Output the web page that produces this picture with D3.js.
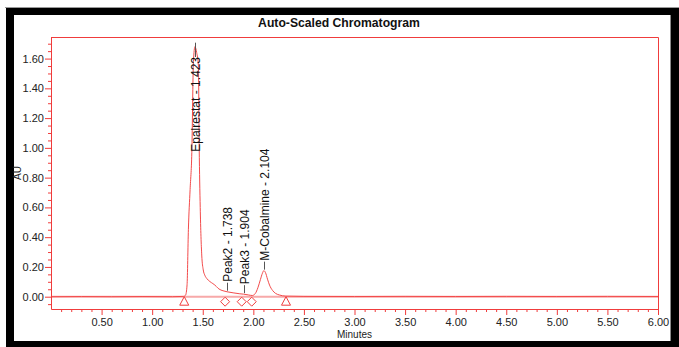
<!DOCTYPE html>
<html>
<head>
<meta charset="utf-8">
<script src="https://cdn.jsdelivr.net/npm/d3@7/dist/d3.min.js"></script>
<style>
  html, body { margin: 0; padding: 0; background: #fff; }
  svg { display: block; font-family: "Liberation Sans", Arial, sans-serif; }
</style>
</head>
<body>
<svg id="chart" width="679" height="347"></svg>
<script>
// Detector trace: retention time (minutes) and absorbance (AU)
const times = [0.00, 0.30, 0.60, 0.90, 1.20, 1.31, 1.33, 1.345, 1.358, 1.375, 1.392, 1.408, 1.423, 1.44, 1.457, 1.465, 1.475, 1.49, 1.505, 1.52, 1.54, 1.57, 1.60, 1.62, 1.635, 1.66, 1.70, 1.74, 1.80, 1.86, 1.904, 1.95, 1.99, 2.02, 2.045, 2.07, 2.09, 2.104, 2.12, 2.14, 2.16, 2.19, 2.22, 2.26, 2.32, 2.50, 3.00, 3.50, 4.00, 4.50, 5.00, 5.50, 6.00];
const absorbance = [0.000, 0.001, 0.000, 0.001, 0.000, 0.002, 0.010, 0.08, 0.45, 0.72, 0.97, 1.58, 1.68, 1.64, 1.55, 1.00, 0.60, 0.28, 0.18, 0.145, 0.122, 0.102, 0.088, 0.078, 0.068, 0.052, 0.040, 0.033, 0.026, 0.020, 0.017, 0.012, 0.008, 0.022, 0.060, 0.115, 0.158, 0.175, 0.162, 0.118, 0.078, 0.042, 0.022, 0.011, 0.004, 0.002, 0.001, 0.002, 0.001, 0.002, 0.001, 0.002, 0.001];

// Integrated peaks
const peakNames = ["Epalrestat", "Peak2", "Peak3", "M-Cobalmine"];
const peakTimes = [1.423, 1.738, 1.904, 2.104];

// Integration event marks
const baselineMarks = [1.317, 2.323];   // triangles: baseline start / end
const dropMarks = [1.721, 1.885, 1.984]; // diamonds: peak drop lines

// Axis ticks
const xTickLabels = [0.5, 1.0, 1.5, 2.0, 2.5, 3.0, 3.5, 4.0, 4.5, 5.0, 5.5, 6.0];
const yTickLabels = [0.0, 0.2, 0.4, 0.6, 0.8, 1.0, 1.2, 1.4, 1.6];

const title = "Auto-Scaled Chromatogram";
const xTitle = "Minutes";
const yTitle = "AU";

const red = "#f03c3c";
const traceRed = "#f34b4b";

const svg = d3.select("#chart");

// window frame
svg.append("rect").attr("x", 0).attr("y", 0).attr("width", 679).attr("height", 347).attr("fill", "#fff");
svg.append("rect").attr("x", 5).attr("y", 7).attr("width", 674).attr("height", 1).attr("fill", "#9a9a9a");
svg.append("rect").attr("x", 6).attr("y", 8).attr("width", 673).attr("height", 339).attr("fill", "#000");
svg.append("rect").attr("x", 14).attr("y", 15).attr("width", 657).attr("height", 326).attr("fill", "#fff");
svg.append("rect").attr("x", 670).attr("y", 15).attr("width", 1).attr("height", 326).attr("fill", "#8a8a8a");

const plot = { left: 51, right: 658, top: 37, bottom: 309 };

const x = d3.scaleLinear().domain([0, 6]).range([plot.left, plot.right]);
const y = d3.scaleLinear().domain([-0.0827, 1.745]).range([plot.bottom, plot.top]);

// title
svg.append("text")
  .attr("x", 339).attr("y", 27)
  .attr("text-anchor", "middle")
  .attr("font-size", "12.2px").attr("font-weight", "bold").attr("fill", "#111")
  .text(title);

// zero baseline band
svg.append("line")
  .attr("x1", x(0)).attr("x2", x(6))
  .attr("y1", y(0)).attr("y2", y(0))
  .attr("stroke", "#f7a9a9").attr("stroke-width", 2);

// trace
const line = d3.line()
  .x((d, i) => x(times[i]))
  .y((d, i) => y(absorbance[i]))
  .curve(d3.curveMonotoneX);

svg.append("path")
  .datum(absorbance)
  .attr("d", line)
  .attr("fill", "none")
  .attr("stroke", traceRed)
  .attr("stroke-width", 1);

// frame: top and right edges
svg.append("path")
  .attr("d", `M${plot.left},${plot.top + 0.5}H${plot.right + 0.5}V${plot.bottom}`)
  .attr("fill", "none").attr("stroke", red).attr("stroke-width", 1);

// x axis
const xMinor = d3.range(1, 61).map(i => i / 10).filter(v => Math.abs(v * 2 - Math.round(v * 2)) > 1e-6);
const xAxisG = svg.append("g").attr("transform", `translate(0,${plot.bottom})`);
xAxisG.append("g").call(d3.axisBottom(x).tickValues(xMinor).tickSize(3).tickFormat(""))
  .call(g => g.select(".domain").remove());
xAxisG.append("g").call(d3.axisBottom(x).tickValues(xTickLabels).tickSize(6).tickSizeOuter(0).tickPadding(3).tickFormat(d3.format(".2f")));
xAxisG.selectAll("line, path").attr("stroke", red);
xAxisG.selectAll("text").attr("font-size", "11px").attr("fill", "#222").attr("font-family", "Liberation Sans, Arial, sans-serif");

// y axis
const yMinor = d3.range(-1, 35).map(i => i * 0.05).filter(v => Math.abs(v * 5 - Math.round(v * 5)) > 1e-6 || v > 1.61);
const yAxisG = svg.append("g").attr("transform", `translate(${plot.left},0)`);
yAxisG.append("g").call(d3.axisLeft(y).tickValues(yMinor).tickSize(3).tickFormat(""))
  .call(g => g.select(".domain").remove());
yAxisG.append("g").call(d3.axisLeft(y).tickValues(yTickLabels).tickSize(6).tickSizeOuter(0).tickPadding(1).tickFormat(d3.format(".2f")));
yAxisG.selectAll("line, path").attr("stroke", red);
yAxisG.selectAll("text").attr("font-size", "11px").attr("fill", "#222").attr("font-family", "Liberation Sans, Arial, sans-serif");

// axis titles
svg.append("text")
  .attr("x", (plot.left + plot.right) / 2).attr("y", 337.5)
  .attr("text-anchor", "middle").attr("font-size", "10px").attr("fill", "#222")
  .text(xTitle);
svg.append("text")
  .attr("transform", `translate(17,${(plot.top + plot.bottom) / 2}) rotate(-90)`)
  .attr("text-anchor", "middle").attr("dy", "0.35em").attr("font-size", "10px").attr("fill", "#222")
  .text(yTitle);

// integration marks
const markY = y(0) + 5;
svg.selectAll("path.tri")
  .data(baselineMarks).join("path").attr("class", "tri")
  .attr("d", d => `M${x(d)},${y(0)}L${x(d) + 4.5},${y(0) + 8.5}L${x(d) - 4.5},${y(0) + 8.5}Z`)
  .attr("fill", "#fff").attr("stroke", red).attr("stroke-width", 1);
svg.selectAll("path.dia")
  .data(dropMarks).join("path").attr("class", "dia")
  .attr("d", d => `M${x(d)},${markY - 4.5}L${x(d) + 4.5},${markY}L${x(d)},${markY + 4.5}L${x(d) - 4.5},${markY}Z`)
  .attr("fill", "#fff").attr("stroke", red).attr("stroke-width", 1);

// peak labels
const traceAt = t => {
  const i = d3.bisectLeft(times, t);
  if (i <= 0) return absorbance[0];
  const t0 = times[i - 1], t1 = times[i];
  return absorbance[i - 1] + (absorbance[i] - absorbance[i - 1]) * (t - t0) / (t1 - t0);
};

peakNames.forEach((name, i) => {
  const rt = peakTimes[i];
  const label = `${name} - ${rt.toFixed(3)}`;
  const px = Math.round(x(rt)) + 0.5;
  const apexY = y(traceAt(rt));
  const txt = svg.append("text")
    .attr("font-size", "12px").attr("fill", "#111")
    .attr("dy", "0.35em")
    .text(label);
  const len = txt.node().getComputedTextLength();
  let startY = apexY - 10;
  let lineTop = apexY - 9;
  let lineBottom = apexY - 1;
  if (startY - len < plot.top + 20) {
    // off-scale peak: hang the label from the top of the plot
    const endY = plot.top + 20;
    startY = endY + len;
    lineTop = apexY - 4;
    lineBottom = endY;
  }
  txt.attr("transform", `translate(${px},${startY}) rotate(-90)`);
  svg.append("line")
    .attr("x1", px).attr("x2", px)
    .attr("y1", lineTop).attr("y2", lineBottom)
    .attr("stroke", "#555").attr("stroke-width", 1);
});
</script>
</body>
</html>
